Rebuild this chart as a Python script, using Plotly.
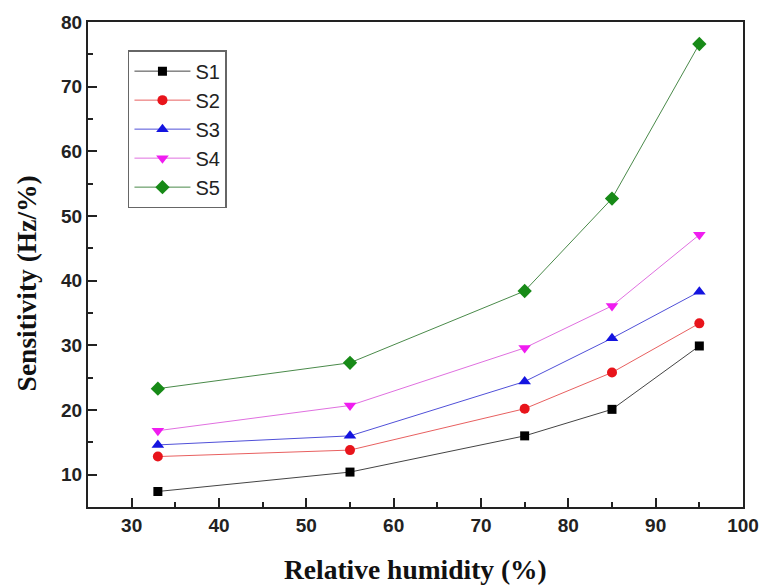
import plotly.graph_objects as go

humidity = [33, 55, 75, 85, 95]
S1 = [7.4, 10.4, 16.0, 20.1, 29.9]
S2 = [12.8, 13.8, 20.2, 25.8, 33.4]
S3 = [14.6, 16.0, 24.4, 31.1, 38.3]
S4 = [16.8, 20.7, 29.6, 36.1, 47.1]
S5 = [23.3, 27.3, 38.4, 52.7, 76.6]
names = ["S1", "S2", "S3", "S4", "S5"]
x_title = "Relative humidity (%)"
y_title = "Sensitivity (Hz/%)"

series = [S1, S2, S3, S4, S5]
colors = ["#000000", "#e8141b", "#1414e0", "#f01cf0", "#178a17"]
line_colors = ["#444444", "#e86060", "#5050d8", "#e070e0", "#4a8a4a"]
symbols = ["square", "circle", "triangle-up", "triangle-down", "diamond"]
sizes = [9, 10, 11, 11, 11]

fig = go.Figure()
for n, y, c, lc, s, sz in zip(names, series, colors, line_colors, symbols, sizes):
    fig.add_trace(go.Scatter(
        x=humidity, y=y, name=n, mode="lines+markers",
        line=dict(color=lc, width=1),
        marker=dict(symbol=s, size=sz, color=c, line=dict(width=0)),
    ))

tickfont = dict(family="Liberation Sans", size=19, color="#222222", weight="bold")
titlefont = dict(family="Liberation Serif", size=27.5, color="#111111", weight="bold")

fig.update_layout(
    width=771, height=588,
    margin=dict(l=88, r=19, t=15, b=81),
    paper_bgcolor="white", plot_bgcolor="white",
    showlegend=True,
    legend=dict(
        x=0.061, y=0.942, xanchor="left", yanchor="top",
        bordercolor="#666666", borderwidth=1.5, bgcolor="white",
        font=dict(family="Liberation Sans", size=20, color="#222222"),
        tracegroupgap=0, itemwidth=56,
    ),
    xaxis=dict(
        range=[25, 100], dtick=10, tick0=30,
        showgrid=False, zeroline=False,
        showline=True, linecolor="#222222", linewidth=2, mirror=True,
        ticks="inside", ticklen=9, tickwidth=1.5, tickcolor="#222222",
        minor=dict(ticks="inside", ticklen=5, dtick=5, tickcolor="#222222", tickwidth=1.5),
        tickfont=tickfont,
    ),
    yaxis=dict(
        range=[5, 80], dtick=10, tick0=10,
        showgrid=False, zeroline=False,
        showline=True, linecolor="#222222", linewidth=2, mirror=True,
        ticks="inside", ticklen=9, tickwidth=1.5, tickcolor="#222222",
        minor=dict(ticks="inside", ticklen=5, dtick=5, tickcolor="#222222", tickwidth=1.5),
        tickfont=tickfont,
    ),
    annotations=[
        dict(text=x_title, xref="paper", yref="paper", x=0.5, y=0,
             xanchor="center", yanchor="middle", yshift=-62,
             showarrow=False, font=titlefont),
        dict(text=y_title, xref="paper", yref="paper", x=0, y=0.461,
             xanchor="center", yanchor="middle", xshift=-62, textangle=-90,
             showarrow=False, font=titlefont),
    ],
)

fig.write_html("out.html")
